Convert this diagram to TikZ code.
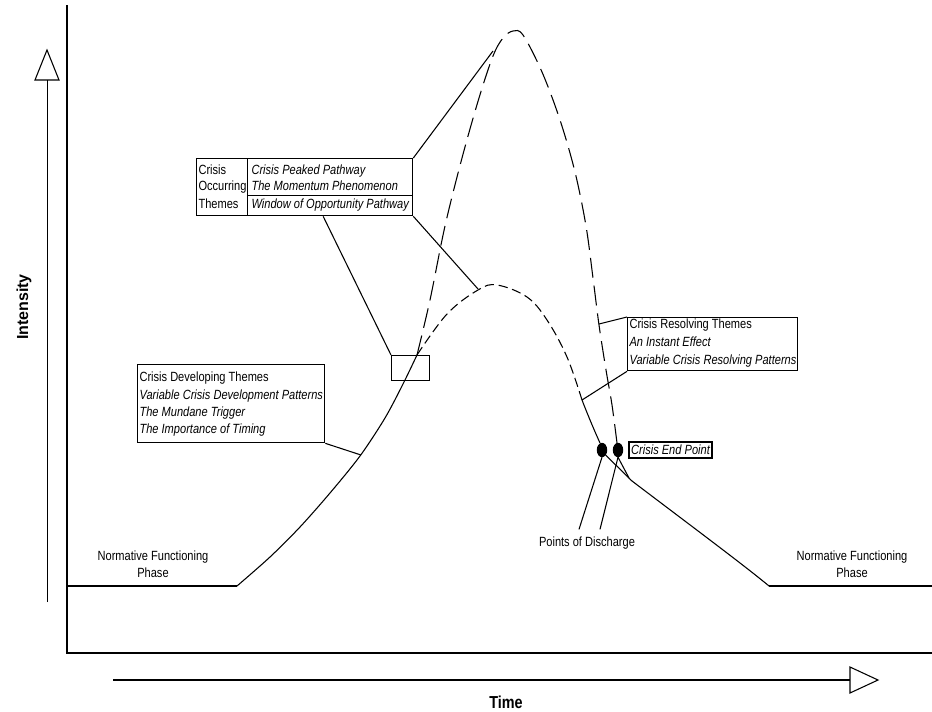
\documentclass[tikz,border=0pt]{standalone}
\usepackage{fontspec}
\setmainfont{Liberation Sans}[FakeStretch=0.83]
\newfontfamily\widefont{Liberation Sans}
\usetikzlibrary{shapes.geometric,calc}
\begin{document}
\begin{tikzpicture}[x=0.75pt,y=-0.75pt,line width=0.8pt,
  txt/.style={inner sep=0pt, font=\fontsize{10}{12}\selectfont, text height=7.2pt, text depth=2pt},
  itx/.style={txt, font=\fontsize{10}{12}\selectfont\itshape},
  cell/.style={draw, line width=1pt, inner sep=0pt, anchor=north west},
  blob/.style={ellipse, fill=black, draw=black, inner sep=0pt, minimum width=7pt, minimum height=10pt},
  longdash/.style={dash pattern=on 15pt off 6pt},
  shortdash/.style={dash pattern=on 7pt off 3.5pt},
  lead/.style={line width=0.8pt}]
\useasboundingbox (0,0) rectangle (932,711);

% axes
\coordinate (axTop) at (67,5);
\coordinate (axBot) at (67,653);
\coordinate (axRight) at (932,653);
\draw (axTop) -- (axBot) -- (axRight);

% intensity arrow
\coordinate (iBot) at (47,602);
\coordinate (iBase) at (47,80);
\coordinate (iTip) at (47,50);
\draw[line width=0.7pt] (iBot) -- (iBase);
\draw[line width=0.8pt] (iTip) -- (59,80) -- (35,80) -- cycle;
\node[font=\widefont\fontsize{12}{14}\selectfont\bfseries, rotate=90, inner sep=0pt] (intens) at (24,307) {Intensity};

% time arrow
\coordinate (tStart) at (113,680);
\coordinate (tBase) at (850,680);
\coordinate (tTip) at (878,680);
\draw (tStart) -- (tBase);
\draw (tTip) -- (850,667) -- (850,693) -- cycle;
\node[font=\fontsize{13}{15}\selectfont\bfseries, inner sep=0pt] (time) at (506,702) {Time};

% baseline (normative functioning)
\coordinate (bl0) at (67,586);
\coordinate (bl1) at (237,586);
\coordinate (br1) at (769,586);
\coordinate (br0) at (932,586);
\draw (bl0) -- (bl1);
\draw (br1) -- (br0);

% rising solid curve
\coordinate (split) at (417,355);
\draw plot[smooth, tension=0.5] coordinates {(237,586) (270,557) (300,527) (330,493) (360,456) (385,418) (403,384) (417,355)};

% tall dashed pathway
\draw[longdash] plot[smooth, tension=0.55] coordinates {(417,355) (430,300) (445,226) (462,158) (479,98) (493,56) (503,38) (513,31) (523,35) (542,72) (560,120) (575,172) (586,226) (593,278) (599,325) (606,370) (612,405) (617,443)};

% small dashed hump
\draw[shortdash] plot[smooth, tension=0.6] coordinates {(417,355) (447,314) (478,290) (497,285) (527,297) (547,320) (567,357) (582,400)};
\draw (582,400) .. controls (589,418) and (595,432) .. (600,443);

% discharge points
\node[blob] (d1) at (602,450) {};
\node[blob] (d2) at (618,450) {};
\coordinate (merge) at (632,481);
\draw (d1.south east) -- (merge);
\draw (d2.south) -- (629,478);

% descending solid
\draw (merge) .. controls (690,525) and (745,566) .. (br1);

% normative labels
\node[txt] (nfl) at (153,557) {Normative Functioning};
\node[txt] (phl) at (153,574) {Phase};
\node[txt] (nfr) at (852,557) {Normative Functioning};
\node[txt] (phr) at (852,574) {Phase};

% crisis occurring themes table
\node[cell, minimum width=38.25pt, minimum height=42.75pt] (occL) at (196,158) {};
\node[cell, minimum width=123.75pt, minimum height=27.75pt] (occR1) at (247,158) {};
\node[cell, minimum width=123.75pt, minimum height=15pt] (occR2) at (247,195) {};
\node[txt, anchor=west] (o1) at (198,171) {Crisis};
\node[txt, anchor=west] (o2) at (198,187) {Occurring};
\node[txt, anchor=west] (o3) at (198,205) {Themes};
\node[itx, anchor=west] (p1) at (251,171) {Crisis Peaked Pathway};
\node[itx, anchor=west] (p2) at (251,187) {The Momentum Phenomenon};
\node[itx, anchor=west] (p3) at (251,205) {Window of Opportunity Pathway};

% small rectangle
\node[draw, line width=1pt, inner sep=0pt, anchor=north west, minimum width=28.5pt, minimum height=18.75pt] (sr) at (391,355) {};

\coordinate (peakHit) at (493,51);
\coordinate (humpHit) at (478,289);
\draw[lead] (occR1.north east) -- (peakHit);
\draw[lead] (occR2.south east) -- (humpHit);
\draw[lead] ($(occR2.south)+(-7,0)$) -- (sr.north west);

% crisis developing themes
\node[cell, minimum width=140.25pt, minimum height=58.5pt] (dev) at (137,364) {};
\node[txt, anchor=west] (dv1) at (139,378) {Crisis Developing Themes};
\node[itx, anchor=west] (dv2) at (139,396) {Variable Crisis Development Patterns};
\node[itx, anchor=west] (dv3) at (139,413) {The Mundane Trigger};
\node[itx, anchor=west] (dv4) at (139,430) {The Importance of Timing};
\coordinate (devHit) at (361,455);
\draw[lead] (dev.south east) -- (devHit);

% crisis resolving themes
\node[cell, minimum width=127.5pt, minimum height=39.75pt] (res) at (627,317) {};
\node[txt, anchor=west] (rs1) at (629,325) {Crisis Resolving Themes};
\node[itx, anchor=west] (rs2) at (629,343) {An Instant Effect};
\node[itx, anchor=west] (rs3) at (629,361) {Variable Crisis Resolving Patterns};
\coordinate (tallHit) at (599,324);
\coordinate (smallHit) at (582,400);
\draw[lead] (res.north west) -- (tallHit);
\draw[lead] (res.south west) -- (smallHit);

% crisis end point
\node[draw, line width=1pt, inner sep=0pt, minimum width=62.25pt, minimum height=12pt, font=\fontsize{10}{12}\selectfont\itshape] (endpt) at (670.5,450) {Crisis End Point};

% points of discharge
\node[txt] (pod) at (587,543) {Points of Discharge};
\draw[lead] ($(pod.north)+(-8,-7)$) -- (d1.south);
\draw[lead] ($(pod.north)+(13,-7)$) -- (d2.south);
\end{tikzpicture}
\end{document}
